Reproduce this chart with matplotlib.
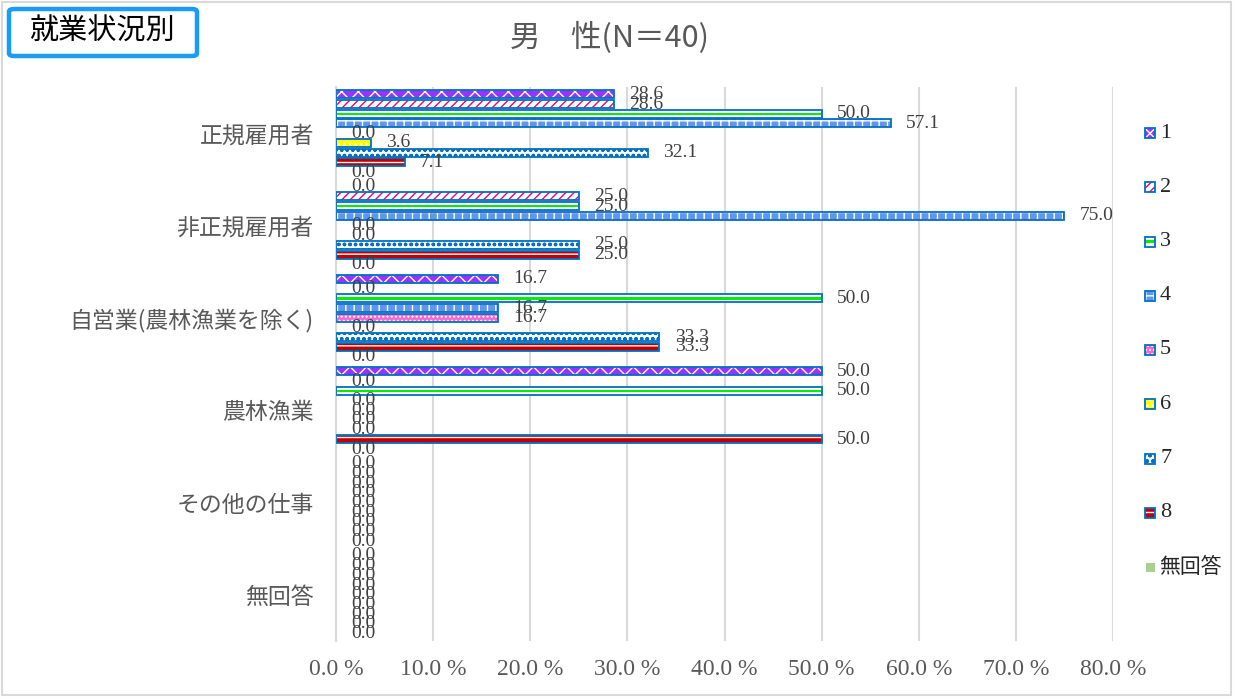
import matplotlib
matplotlib.use('Agg')
import matplotlib.pyplot as plt
from matplotlib.patches import Rectangle, FancyBboxPatch
import numpy as np

# ---------------- data ----------------
categories = ['正規雇用者', '非正規雇用者', '自営業(農林漁業を除く)', '農林漁業', 'その他の仕事', '無回答']
series_names = ['1', '2', '3', '4', '5', '6', '7', '8', '無回答']
s1 = [28.6, 0.0, 16.7, 50.0, 0.0, 0.0]
s2 = [28.6, 25.0, 0.0, 0.0, 0.0, 0.0]
s3 = [50.0, 25.0, 50.0, 50.0, 0.0, 0.0]
s4 = [57.1, 75.0, 16.7, 0.0, 0.0, 0.0]
s5 = [0.0, 0.0, 16.7, 0.0, 0.0, 0.0]
s6 = [3.6, 0.0, 0.0, 0.0, 0.0, 0.0]
s7 = [32.1, 25.0, 33.3, 0.0, 0.0, 0.0]
s8 = [7.1, 25.0, 33.3, 50.0, 0.0, 0.0]
s_na = [0.0, 0.0, 0.0, 0.0, 0.0, 0.0]
series_values = [s1, s2, s3, s4, s5, s6, s7, s8, s_na]
xticks = [0, 10, 20, 30, 40, 50, 60, 70, 80]
title = '男　性(N＝40)'
box_label = '就業状況別'

# ---------------- styles ----------------
EDGE = '#0070C0'
styles = [
    dict(face='#9933FF', hatch='xx', hc='#FFFFFF'),
    dict(face='#FFFFFF', hatch='////', hc='#FF0066'),
    dict(face='#FFFFFF', hatch=None, hc=None, inner='#00EE00'),
    dict(face='#6495ED', hatch='++', hc='#FFFFFF'),
    dict(face='#FF66CC', hatch='....', hc='#FFFFFF'),
    dict(face='#FFFF00', hatch='...', hc='#FFFFFF'),
    dict(face='#FFFFFF', hatch='ooo', hc='#0070C0'),
    dict(face='#C00000', hatch='--', hc='#FFFFFF'),
    dict(face='#A9D18E', hatch=None, hc=None),
]
plt.rcParams['hatch.linewidth'] = 1.0
CJK = ['Noto Sans CJK JP', 'DejaVu Sans']
SERIF = ['Liberation Serif', 'DejaVu Serif']

W, H = 1234, 698
fig = plt.figure(figsize=(W / 100, H / 100), dpi=100)
fig.patch.set_facecolor('white')

def fx(px):
    return px / W

def fy(py):
    return 1 - py / H

ax = fig.add_axes([fx(336), fy(641), fx(1113) - fx(336), fy(87) - fy(641)])

n_series = len(series_names)
cat_pos = np.arange(len(categories))
slot = 1 / 9.5
bh = 0.087

for j, vals in enumerate(series_values):
    st = styles[j]
    y = cat_pos + (j - (n_series - 1) / 2) * slot
    if j < 8:
        if st['hatch']:
            ax.barh(y, vals, height=bh, facecolor=st['face'], edgecolor=st['hc'],
                    hatch=st['hatch'], linewidth=0, zorder=2)
        else:
            ax.barh(y, vals, height=bh, facecolor=st['face'], linewidth=0, zorder=2)
        if st.get('inner'):
            ax.barh(y, vals, height=bh * 0.3, facecolor=st['inner'], linewidth=0, zorder=2.5)
        ax.barh(y, vals, height=bh, facecolor='none', edgecolor=EDGE,
                linewidth=[1.3 if v > 0 else 0 for v in vals], zorder=3)
    else:
        ax.barh(y, vals, height=bh, facecolor=st['face'], linewidth=0, zorder=2)
    for yi, v in zip(y, vals):
        ax.annotate(f'{v:.1f}', xy=(v, yi), xytext=(11, 0), textcoords='offset points',
                    ha='left', va='center', fontsize=14, family=SERIF, color='#404040',
                    zorder=5, annotation_clip=False)

ax.set_xlim(0, 80)
ax.set_ylim(len(categories) - 0.5, -0.5)
ax.set_xticks(xticks)
ax.set_xticklabels([f'{v:.1f} %' for v in xticks], family=SERIF, fontsize=17, color='#595959')
ax.set_yticks(cat_pos)
ax.set_yticklabels(categories, family=CJK, fontsize=16.5, color='#595959')
ax.tick_params(axis='both', length=0)
ax.tick_params(axis='x', pad=13)
ax.tick_params(axis='y', pad=16)
ax.xaxis.grid(True, color='#D9D9D9', linewidth=1.5, zorder=0)
ax.set_axisbelow(True)
for s in ['top', 'right', 'bottom']:
    ax.spines[s].set_visible(False)
ax.spines['left'].set_color('#D9D9D9')
ax.spines['left'].set_linewidth(1.5)

# title
fig.text(fx(610), fy(38), title, ha='center', va='center', fontsize=22, family=CJK, color='#595959')

# top-left labelled box
fig.add_artist(FancyBboxPatch((fx(9), fy(56)), fx(197) - fx(9), fy(9) - fy(56),
                              boxstyle='round,pad=0,rounding_size=0.004', transform=fig.transFigure,
                              facecolor='white', edgecolor='#1A9BF5', linewidth=3.2))
fig.text(fx(102), fy(32), box_label, ha='center', va='center', fontsize=21, family=CJK, color='#000000')

# outer border
fig.add_artist(Rectangle((fx(2), fy(695)), fx(1231) - fx(2), fy(2) - fy(695), transform=fig.transFigure,
                         facecolor='none', edgecolor='#D9D9D9', linewidth=1.5))

# legend
for k, name in enumerate(series_names):
    st = styles[k]
    yc = 133 + k * 54.25
    if k < 8:
        r = Rectangle((fx(1145), fy(yc + 5)), fx(10), 10 / H, transform=fig.transFigure,
                      facecolor=st['face'], edgecolor=st['hc'] if st['hatch'] else 'none',
                      hatch=st['hatch'], linewidth=0)
        fig.add_artist(r)
        if st.get('inner'):
            fig.add_artist(Rectangle((fx(1145), fy(yc + 1.5)), fx(10), 3 / H, transform=fig.transFigure,
                                     facecolor=st['inner'], linewidth=0))
        fig.add_artist(Rectangle((fx(1145), fy(yc + 5)), fx(10), 10 / H, transform=fig.transFigure,
                                 facecolor='none', edgecolor=EDGE, linewidth=1.3))
        fig.text(fx(1160), fy(yc), name, ha='left', va='center', fontsize=16, family=SERIF, color='#262626')
    else:
        fig.add_artist(Rectangle((fx(1146), fy(yc + 4.5)), fx(9), 9 / H, transform=fig.transFigure,
                                 facecolor=st['face'], linewidth=0))
        fig.text(fx(1159), fy(yc), name, ha='left', va='center', fontsize=15, family=CJK, color='#262626')

fig.savefig('out.png', dpi=100)
